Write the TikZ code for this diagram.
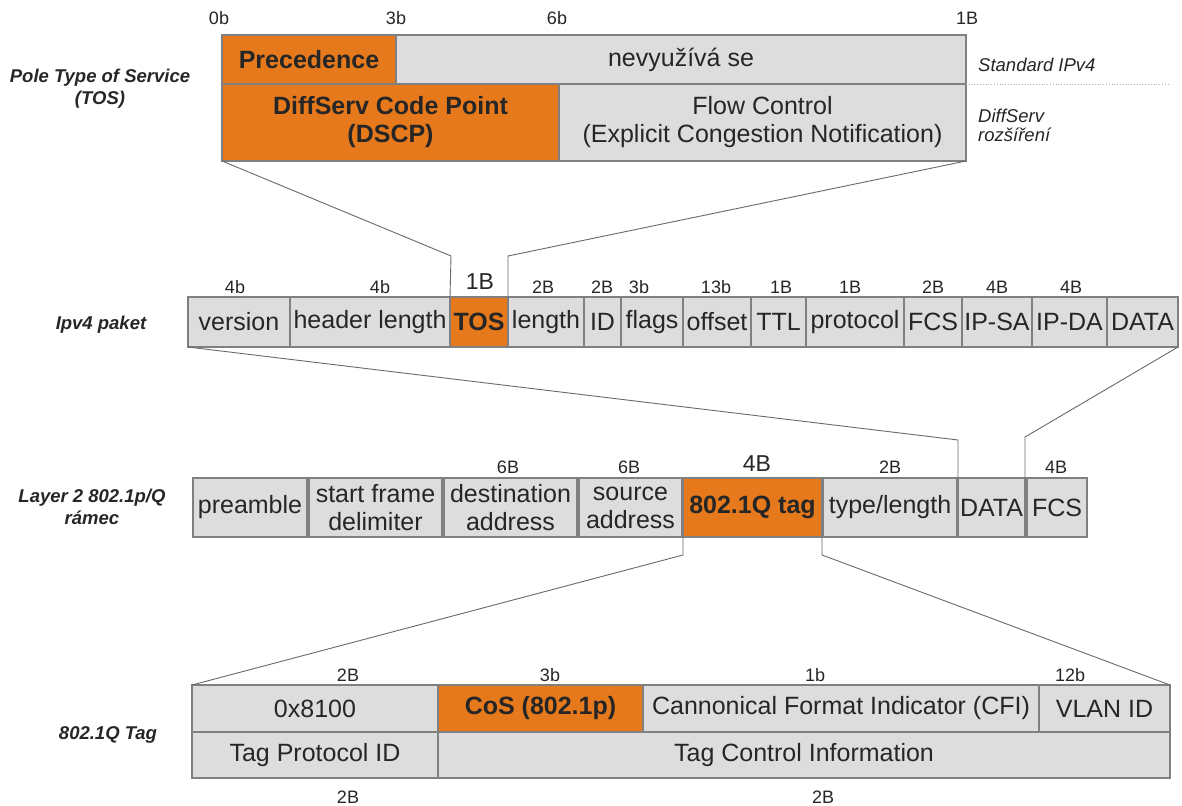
\documentclass[tikz,border=0pt]{standalone}
\usepackage{fontspec}
\setmainfont{Liberation Sans}

\definecolor{orng}{RGB}{229,121,28}
\definecolor{cellgray}{RGB}{221,221,221}
\definecolor{edge}{RGB}{128,128,128}
\definecolor{ink}{RGB}{38,38,38}
\definecolor{wirecol}{RGB}{105,105,105}
\definecolor{dotcol}{RGB}{175,175,175}

\tikzset{
  cell/.style={draw=edge, line width=1.1pt, fill=cellgray, inner sep=0pt, outer sep=0pt,
    text=ink, align=center, font=\fontsize{25}{28}\selectfont},
  hot/.style={cell, fill=orng, font=\fontsize{25}{28}\selectfont\bfseries},
  size/.style={text=ink, inner sep=0pt, font=\fontsize{18}{18}\selectfont,
    text height=13pt, text depth=0pt},
  bigsize/.style={size, font=\fontsize{23}{23}\selectfont, text height=16.5pt},
  side/.style={text=ink, align=center, inner sep=0pt,
    font=\fontsize{18.5}{22}\selectfont\bfseries\itshape},
  note/.style={text=ink, align=left, inner sep=0pt, anchor=west,
    font=\fontsize{18.5}{19}\selectfont\itshape},
  wire/.style={draw=wirecol, line width=0.9pt},
}

% a header field: style, name, left, top, right, bottom, text
\newcommand\fieldbox[7]{%
  \node[#1, minimum width={#5-#3}, minimum height={#6-#4}]
    (#2) at ({(#3+#5)/2},{(#4+#6)/2}) {#7};}

\begin{document}
\begin{tikzpicture}[x=1pt, y=-1pt]
  \useasboundingbox[fill=white] (0,0) rectangle (1182,805);

  % ---------- Type of Service byte ----------
  \fieldbox{hot}{prec}{222}{35}{396}{84}{Precedence}
  \fieldbox{cell}{unused}{396}{35}{966}{84}{nevyužívá se}
  \fieldbox{hot}{dscp}{222}{84}{559}{161}{DiffServ Code Point\\(DSCP)}
  \fieldbox{cell}{flow}{559}{84}{966}{161}{Flow Control\\(Explicit Congestion Notification)}

  \node[size] (b0) at (219,18) {0b};
  \node[size] (b3) at (396,18) {3b};
  \node[size] (b6) at (557,18) {6b};
  \node[size] (b8) at (967,18) {1B};

  \draw[dotcol, line width=0.8pt, dotted] (unused.south east) -- (1170,84) coordinate (dotend);
  \node[note] (std)  at (978,65)  {Standard IPv4};
  \node[note] (ext)  at (978,125) {DiffServ\\rozšíření};
  \node[side] (tosl) at (100,89)  {Pole Type of Service\\(TOS)};

  % ---------- IPv4 packet ----------
  \fieldbox{cell}{ver}{188}{297}{290}{347}{version}
  \fieldbox{cell}{hlen}{290}{297}{450}{347}{header length}
  \fieldbox{hot}{tos}{450}{297}{508}{347}{TOS}
  \fieldbox{cell}{len}{508}{297}{584}{347}{length}
  \fieldbox{cell}{id}{584}{297}{621}{347}{ID}
  \fieldbox{cell}{flg}{621}{297}{683}{347}{flags}
  \fieldbox{cell}{off}{683}{297}{751}{347}{offset}
  \fieldbox{cell}{ttl}{751}{297}{806}{347}{TTL}
  \fieldbox{cell}{proto}{806}{297}{904}{347}{protocol}
  \fieldbox{cell}{fcs}{904}{297}{962}{347}{FCS}
  \fieldbox{cell}{sa}{962}{297}{1032}{347}{IP-SA}
  \fieldbox{cell}{da}{1032}{297}{1107}{347}{IP-DA}
  \fieldbox{cell}{data}{1107}{297}{1178}{347}{DATA}

  \node[size]    at (235,287)  {4b};
  \node[size]    at (380,287)  {4b};
  \node[bigsize] at (480,281)  {1B};
  \node[size]    at (543,287)  {2B};
  \node[size]    at (602,287)  {2B};
  \node[size]    at (639,287)  {3b};
  \node[size]    at (716,287)  {13b};
  \node[size]    at (781,287)  {1B};
  \node[size]    at (850,287)  {1B};
  \node[size]    at (933,287)  {2B};
  \node[size]    at (997,287)  {4B};
  \node[size]    at (1071,287) {4B};

  \node[side] (ipl) at (101,325) {Ipv4 paket};

  % ---------- Layer 2 frame ----------
  \fieldbox{cell}{pre}{193}{478}{307}{537}{preamble}
  \fieldbox{cell}{sfd}{309}{478}{442}{537}{start frame\\delimiter}
  \fieldbox{cell}{dst}{444}{478}{577}{537}{destination\\address}
  \fieldbox{cell}{src}{579}{478}{682}{537}{source\\address}
  \fieldbox{hot}{tag}{683}{478}{822}{537}{802.1Q tag}
  \fieldbox{cell}{typ}{823}{478}{957}{537}{type/length}
  \fieldbox{cell}{ldata}{958}{478}{1025}{537}{DATA}
  \fieldbox{cell}{lfcs}{1027}{478}{1087}{537}{FCS}

  \node[size]    at (508,467)  {6B};
  \node[size]    at (629,467)  {6B};
  \node[bigsize] at (757,463)  {4B};
  \node[size]    at (890,467)  {2B};
  \node[size]    at (1056,467) {4B};

  \node[side] (l2l) at (92,507) {Layer 2 802.1p/Q\\rámec};

  % ---------- 802.1Q tag ----------
  \fieldbox{cell}{tpv}{192}{685}{438}{732}{0x8100}
  \fieldbox{hot}{cos}{438}{685}{643}{732}{CoS (802.1p)}
  \fieldbox{cell}{cfi}{643}{685}{1039}{732}{Cannonical Format Indicator (CFI)}
  \fieldbox{cell}{vid}{1039}{685}{1170}{732}{VLAN ID}
  \fieldbox{cell}{tpid}{192}{732}{438}{778}{Tag Protocol ID}
  \fieldbox{cell}{tci}{438}{732}{1170}{778}{Tag Control Information}

  \node[size] at (348,675)  {2B};
  \node[size] at (550,675)  {3b};
  \node[size] at (815,675)  {1b};
  \node[size] at (1070,675) {12b};
  \node[size] at (348,797)  {2B};
  \node[size] at (823,797)  {2B};

  \node[side] (tagl) at (108,735) {802.1Q Tag};

  % ---------- zoom connectors ----------
  \coordinate (k1) at (451,256);
  \coordinate (k2) at (508,256);
  \draw[wire] (dscp.south west) -- (k1) -- (tos.north west);
  \draw[wire] (flow.south east) -- (k2) -- (tos.north east);

  \coordinate (k3) at (958,440);
  \coordinate (k4) at (1025,437);
  \draw[wire] (ver.south west) -- (k3) -- (ldata.north west);
  \draw[wire] (data.south east) -- (k4) -- (ldata.north east);

  \coordinate (k5) at (683,555);
  \coordinate (k6) at (822,555);
  \draw[wire] (tag.south west) -- (k5) -- (tpv.north west);
  \draw[wire] (tag.south east) -- (k6) -- (vid.north east);
\end{tikzpicture}
\end{document}
